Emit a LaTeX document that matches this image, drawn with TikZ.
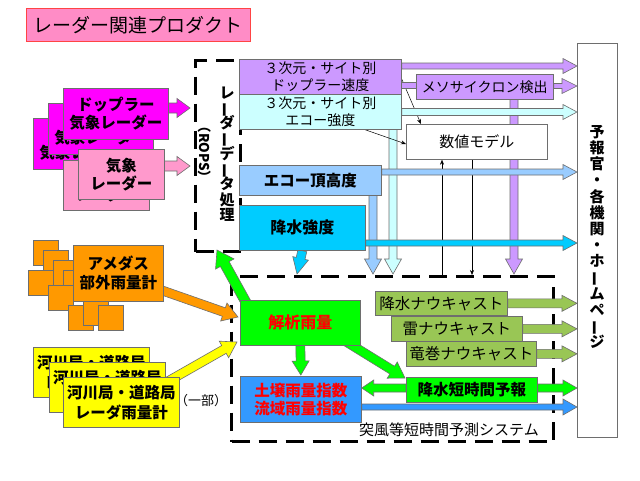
\documentclass[tikz,border=0pt]{standalone}
\usepackage{fontspec}
\setmainfont{Noto Sans CJK JP}
\usepackage{graphicx}
\usetikzlibrary{calc,arrows.meta}
\definecolor{magC}{HTML}{FF00FF}
\definecolor{pinkC}{HTML}{FF99CC}
\definecolor{titleC}{HTML}{FF8CC6}
\definecolor{titleB}{HTML}{FF4444}
\definecolor{orgC}{HTML}{FF9900}
\definecolor{yelC}{HTML}{FFFF00}
\definecolor{purC}{HTML}{CC99FF}
\definecolor{lcyC}{HTML}{CCFFFF}
\definecolor{lbluC}{HTML}{99CCFF}
\definecolor{cyC}{HTML}{00CCFF}
\definecolor{grnC}{HTML}{00FF00}
\definecolor{bluC}{HTML}{3399FF}
\definecolor{olvC}{HTML}{99C655}
\definecolor{edgeC}{HTML}{6E6E6E}
\pgfdeclarelayer{bgB}
\pgfdeclarelayer{bgA}
\pgfsetlayers{bgB,bgA,main}
\newcommand\vb{\rotatebox[origin=c]{90}{ー}}
\newcommand\fbig{\fontsize{15.5}{18}\selectfont\bfseries}
\newcommand\fprod{\fontsize{14}{17}\selectfont}
\newcommand\fnc{\fontsize{15.5}{18}\selectfont}
\newcommand\tightlines{\lineskiplimit=-50pt\relax\lineskip=0pt\relax}
% block arrow: style, from, to, shaft half width, head half width, head length
\newcommand\barrow[6]{%
  \path let \p1=(#2), \p2=(#3) in \pgfextra{%
    \pgfmathsetmacro\baang{atan2(\y2-\y1,\x2-\x1)}%
    \pgfmathsetmacro\balen{veclen(\x2-\x1,\y2-\y1)}%
    \xdef\baang{\baang}\xdef\balen{\balen}};
  \filldraw[arr,#1,shift={(#2)},rotate=\baang]
    (0pt,-#4pt) -- ({\balen pt-#6pt},-#4pt) -- ({\balen pt-#6pt},-#5pt) -- (\balen pt,0pt)
    -- ({\balen pt-#6pt},#5pt) -- ({\balen pt-#6pt},#4pt) -- (0pt,#4pt) -- cycle;
}
\begin{document}
\begin{tikzpicture}[x=1pt,y=-1pt,
  box/.style={draw=edgeC, line width=0.7pt, inner sep=0pt, anchor=north west, align=center},
  arr/.style={draw=edgeC, line width=0.6pt},
  dashbox/.style={draw=black, line width=3pt, dash pattern=on 18pt off 9pt, anchor=north west, inner sep=0pt},
  thinarr/.style={line width=0.5pt, -{Stealth[length=5pt,width=4pt]}},
  txt/.style={inner sep=0pt, align=center}]
\useasboundingbox (0,0) rectangle (640,480);
\begin{pgfonlayer}{bgB}
\fill[white] (0,0) rectangle (640,480);
\end{pgfonlayer}

% title
\node[box, fill=titleC, draw=titleB, minimum width=224pt, minimum height=33pt, font=\fontsize{19}{22}\selectfont] (title) at (26,8) {レーダー関連プロダクト};

% doppler radars
\foreach \i/\x/\y in {A/33/118, B/48/103, C/63/88}
  \node[box, fill=magC, minimum width=105pt, minimum height=51pt, font=\fbig] (dop\i) at (\x,\y) {ドップラー\\気象レーダー};
\foreach \i/\x/\y in {A/63/160, B/78/149}
  \node[box, fill=pinkC, minimum width=86pt, minimum height=50pt, font=\fbig] (wx\i) at (\x,\y) {気象\\レーダー};

% amedas
\foreach \x/\y [count=\k] in {33/240, 43/250, 53/260, 28/270, 63/270, 48/285, 68/305, 83/300, 98/305}
  \node[box, fill=orgC, minimum width=25pt, minimum height=25pt] (sq\k) at (\x,\y) {};
\node[box, fill=orgC, minimum width=90pt, minimum height=56pt, font=\fontsize{15.5}{19}\selectfont\bfseries] (amedas) at (73,245) {アメダス\\部外雨量計};

% river/road radars
\foreach \i/\x/\y in {A/33/347, B/49/362, C/63/377}
  \node[box, fill=yelC, minimum width=116pt, minimum height=50pt, font=\fontsize{15.5}{20}\selectfont\bfseries] (riv\i) at (\x,\y) {河川局・道路局\\レーダ雨量計};
\node[txt, font=\fontsize{13}{15}\selectfont] (part) at (201,401) {（一部）};

% dashed boxes
\begin{pgfonlayer}{bgB}
\node[dashbox, minimum width=45pt, minimum height=191pt] (rops) at (194,59) {};
\node[dashbox, minimum width=322pt, minimum height=165pt] (sys) at (230,275) {};
\end{pgfonlayer}
\node[txt, font=\fontsize{15}{15.3}\selectfont\bfseries\tightlines] (ropsv) at (227,154) {レ\\\vb\\ダ\\\vb\\デ\\\vb\\タ\\処\\理};
\node[txt, rotate=-90, font=\fontsize{13.5}{15}\selectfont\bfseries] (ropsn) at (205,152) {（ROPS）};

% products
\node[box, fill=purC, minimum width=162pt, minimum height=35pt, font=\fprod] (p1) at (239,59) {３次元・サイト別\\ドップラー速度};
\node[box, fill=lcyC, minimum width=162pt, minimum height=35pt, font=\fprod] (p2) at (239,94) {３次元・サイト別\\エコー強度};
\node[box, fill=lbluC, minimum width=142pt, minimum height=30pt, font=\fontsize{15.5}{18}\selectfont\bfseries] (p3) at (239,165) {エコー頂高度};
\node[box, fill=cyC, minimum width=126pt, minimum height=45pt, font=\fontsize{16}{18}\selectfont\bfseries] (p4) at (239,205) {降水強度};
\node[box, fill=purC, minimum width=137pt, minimum height=25pt, font=\fprod] (meso) at (416,74) {メソサイクロン検出};
\node[box, fill=white, minimum width=141pt, minimum height=35pt, font=\fontsize{15}{18}\selectfont] (model) at (406,124) {数値モデル};

% output box
\node[box, fill=white, minimum width=40pt, minimum height=394pt] (out) at (577,43) {};
\node[txt, font=\fontsize{15}{16.2}\selectfont\bfseries\tightlines] (outt) at (597,237) {予\\報\\官\\・\\各\\機\\関\\・\\ホ\\\vb\\ム\\ペ\\\vb\\ジ};

% system
\node[box, fill=grnC, minimum width=120pt, minimum height=45pt, font=\fontsize{16}{18}\selectfont\bfseries\color{red}] (kai) at (240,300) {解析雨量};
\node[box, fill=bluC, minimum width=121pt, minimum height=46pt, font=\fontsize{15.5}{18}\selectfont\bfseries\color{red}] (doj) at (240,376) {土壌雨量指数\\流域雨量指数};
\node[box, fill=olvC, minimum width=132pt, minimum height=24pt, font=\fnc] (nc1) at (375,291) {降水ナウキャスト};
\node[box, fill=olvC, minimum width=131pt, minimum height=25pt, font=\fnc] (nc2) at (391,316) {雷ナウキャスト};
\node[box, fill=olvC, minimum width=130pt, minimum height=25pt, font=\fnc] (nc3) at (406,341) {竜巻ナウキャスト};
\node[box, fill=grnC, minimum width=131pt, minimum height=25pt, font=\fontsize{15.5}{18}\selectfont\bfseries] (tan) at (406,377) {降水短時間予報};
\node[txt, font=\fontsize{15}{17}\selectfont] (syst) at (449,430) {突風等短時間予測システム};

% connector end points
\coordinate (m1) at ($(dopC.east |- 0,108)+(-4,0)$);
\coordinate (m2) at (190,108);
\coordinate (k1) at ($(wxB.east |- 0,166)+(-4,0)$);
\coordinate (k2) at (190,166);
\coordinate (o1) at (158,289);
\coordinate (o2) at (238,317);
\coordinate (y1) at (165,383);
\coordinate (y2) at (237,342);
\coordinate (g1) at (248,306);
\coordinate (g2) at (217,250);
\coordinate (g3) at (kai.south);
\coordinate (g4) at ($(doj.north)+(0,-1)$);
\coordinate (g5) at (345,341);
\coordinate (g6) at (405,378);
\coordinate (v1) at (p4.south);
\coordinate (v2) at (297,274);
\coordinate (v3) at (373,195);
\coordinate (v4) at (373,274);
\coordinate (v5) at (393,129);
\coordinate (v6) at (393,274);
\coordinate (v7) at (514,99);
\coordinate (v8) at (514,274);
\coordinate (h1) at (p1.east |- 0,66);
\coordinate (h2) at (out.west |- 0,66);
\coordinate (h3) at (p1.east |- 0,85);
\coordinate (h4) at (meso.west |- 0,85);
\coordinate (h5) at (meso.east |- 0,86);
\coordinate (h6) at (out.west |- 0,86);
\coordinate (h7) at (p2.east |- 0,112);
\coordinate (h8) at (out.west |- 0,112);
\coordinate (h9) at (p3.east |- 0,172);
\coordinate (h10) at (out.west |- 0,172);
\coordinate (h11) at (p4.east |- 0,243);
\coordinate (h12) at (out.west |- 0,243);
\coordinate (n1) at (nc1.east);
\coordinate (n2) at (out.west |- nc1.east);
\coordinate (n3) at (nc2.east);
\coordinate (n4) at (out.west |- nc2.east);
\coordinate (n5) at (nc3.east);
\coordinate (n6) at (out.west |- nc3.east);
\coordinate (t1) at (tan.west |- 0,388);
\coordinate (t2) at (doj.east |- 0,388);
\coordinate (t3) at (tan.east |- 0,388);
\coordinate (t4) at (out.west |- 0,388);
\coordinate (d1) at (doj.east |- 0,407);
\coordinate (d2) at (out.west |- 0,407);
\coordinate (s1) at (p1.east |- 0,79);
\coordinate (s2) at (421,124);
\coordinate (s3) at (p2.south -| 365,0);
\coordinate (s4) at (model.west |- 0,144);
\coordinate (s5) at (442,275);
\coordinate (s6) at (model.south -| 442,0);
\coordinate (s7) at (model.south -| 472,0);
\coordinate (s8) at (472,275);

\begin{pgfonlayer}{bgA}
\barrow{fill=magC}{m1}{m2}{5}{9.5}{13}
\barrow{fill=pinkC}{k1}{k2}{5}{9.5}{13}
\barrow{fill=orgC}{o1}{o2}{4.5}{9.5}{15}
\barrow{fill=yelC}{y1}{y2}{4.5}{9.5}{15}
\barrow{fill=grnC}{g1}{g2}{5}{10.5}{16}
\barrow{fill=grnC}{g3}{g4}{4.5}{8.5}{14}
\barrow{fill=grnC}{g5}{g6}{4.5}{9.5}{15}
\barrow{fill=cyC}{v1}{v2}{4.5}{8}{16}
\barrow{fill=lbluC}{v3}{v4}{4}{8.5}{15}
\barrow{fill=lcyC}{v5}{v6}{4}{8.5}{15}
\barrow{fill=purC}{v7}{v8}{4}{8.5}{15}
\draw[thinarr] (s1) -- (s2);
\draw[thinarr] (s3) -- (s4);
\draw[thinarr] (s5) -- (s6);
\draw[thinarr] (s7) -- (s8);
\barrow{fill=purC}{h1}{h2}{3}{7.5}{14}
\barrow{fill=purC}{h3}{h4}{3}{3}{0}
\barrow{fill=purC}{h5}{h6}{2.5}{7.5}{15}
\barrow{fill=lcyC}{h7}{h8}{3.5}{7.5}{14}
\barrow{fill=lbluC}{h9}{h10}{3}{7.5}{14}
\barrow{fill=cyC}{h11}{h12}{3}{7.5}{14}
\barrow{fill=olvC}{n1}{n2}{4.5}{8}{15}
\barrow{fill=olvC}{n3}{n4}{4.5}{8}{15}
\barrow{fill=olvC}{n5}{n6}{4.5}{8}{15}
\barrow{fill=grnC}{t1}{t2}{4}{8}{12}
\barrow{fill=grnC}{t3}{t4}{4}{8}{14}
\barrow{fill=bluC}{d1}{d2}{3}{8}{14}
\end{pgfonlayer}
\end{tikzpicture}
\end{document}
